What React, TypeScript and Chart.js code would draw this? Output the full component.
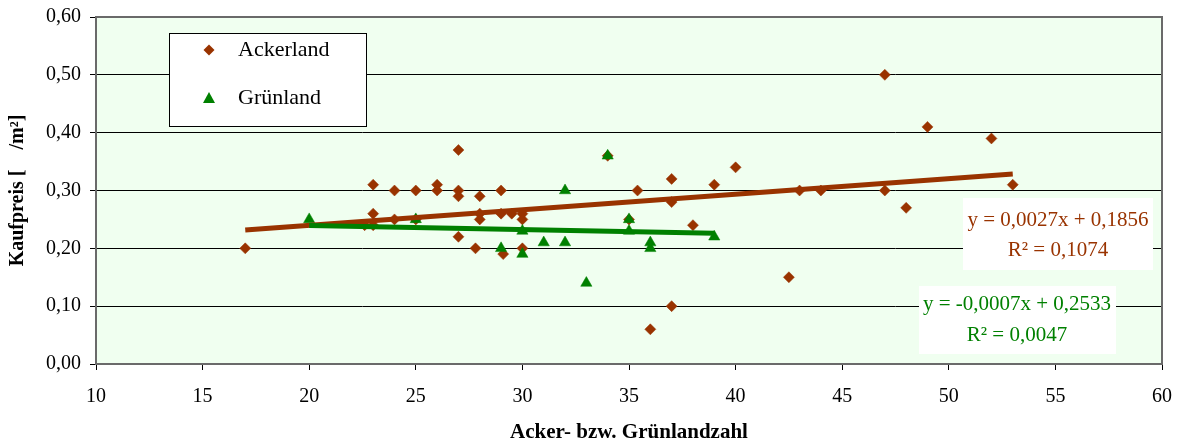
import React, { useEffect, useRef } from "react";
import { Chart, registerables } from "chart.js";

Chart.register(...registerables);

// ---- Data ----
const ackerX = [17, 22.6, 23, 23, 23, 24, 24, 25, 25, 26, 26, 27, 27, 27, 27, 27.8, 28, 28, 28, 29, 29, 29.1, 29.5, 30, 30, 30, 34, 35, 35.4, 36, 37, 37, 37, 38, 39, 40, 42.5, 43, 44, 47, 47, 48, 49, 52, 53];
const ackerY = [0.2, 0.24, 0.31, 0.26, 0.24, 0.3, 0.25, 0.3, 0.25, 0.31, 0.3, 0.37, 0.3, 0.29, 0.22, 0.2, 0.29, 0.26, 0.25, 0.3, 0.26, 0.19, 0.26, 0.26, 0.25, 0.2, 0.36, 0.25, 0.3, 0.06, 0.32, 0.28, 0.1, 0.24, 0.31, 0.34, 0.15, 0.3, 0.3, 0.5, 0.3, 0.27, 0.41, 0.39, 0.31];

const gruenX = [20, 25, 29, 30, 30, 31, 32, 32, 33, 34, 35, 35, 36, 36, 39];
const gruenY = [0.25, 0.25, 0.2, 0.23, 0.19, 0.21, 0.3, 0.21, 0.14, 0.36, 0.25, 0.23, 0.21, 0.2, 0.22];

// Trend lines (coefficients as printed on the chart) and their x extents
const ackerTrendCoef = [0.0027, 0.1856];
const ackerTrendRange = [17, 53];
const gruenTrendCoef = [-0.0007, 0.2533];
const gruenTrendRange = [20, 39];

const ackerEquation = ["y = 0,0027x + 0,1856", "R² = 0,1074"];
const gruenEquation = ["y = -0,0007x + 0,2533", "R² = 0,0047"];

const xTicks = [10, 15, 20, 25, 30, 35, 40, 45, 50, 55, 60];
const yTicks = [0, 0.1, 0.2, 0.3, 0.4, 0.5, 0.6];
const yTickLabels = ["0,00", "0,10", "0,20", "0,30", "0,40", "0,50", "0,60"];

const seriesLabels = ["Ackerland", "Grünland"];
const xTitle = "Acker- bzw. Grünlandzahl";
const yTitle = "Kaufpreis [    /m²]";

// ---- Styles ----
const SERIF = "'Liberation Serif', 'Times New Roman', serif";
const BROWN = "#993300";
const GREEN = "#008000";
const PLOT_BG = "#F0FFF0";

const decorPlugin = {
  id: "decor",
  beforeDraw(chart: any) {
    const { ctx, chartArea } = chart;
    const { left, top, right, bottom } = chartArea;
    ctx.save();
    ctx.fillStyle = "#ffffff";
    ctx.fillRect(0, 0, chart.width, chart.height);
    ctx.fillStyle = PLOT_BG;
    ctx.fillRect(left, top, right - left, bottom - top);
    ctx.restore();
  },
  beforeDatasetsDraw(chart: any) {
    const { ctx, chartArea } = chart;
    const { left, top, right, bottom } = chartArea;
    ctx.save();
    ctx.strokeStyle = "#6a6a6a";
    ctx.lineWidth = 2;
    ctx.strokeRect(left, top, right - left, bottom - top);
    ctx.restore();
  },
  afterDatasetsDraw(chart: any) {
    const { ctx } = chart;
    ctx.save();
    // Legend box
    ctx.fillStyle = "#ffffff";
    ctx.fillRect(169, 33, 197, 93);
    ctx.strokeStyle = "#000000";
    ctx.lineWidth = 1;
    ctx.strokeRect(169.5, 33.5, 197, 93);
    // diamond
    ctx.fillStyle = BROWN;
    ctx.beginPath();
    ctx.moveTo(209, 44.5);
    ctx.lineTo(214.5, 50);
    ctx.lineTo(209, 55.5);
    ctx.lineTo(203.5, 50);
    ctx.closePath();
    ctx.fill();
    // triangle
    ctx.fillStyle = GREEN;
    ctx.beginPath();
    ctx.moveTo(209, 92);
    ctx.lineTo(215, 103);
    ctx.lineTo(203, 103);
    ctx.closePath();
    ctx.fill();
    ctx.fillStyle = "#000000";
    ctx.font = `22px ${SERIF}`;
    ctx.textAlign = "left";
    ctx.textBaseline = "middle";
    ctx.fillText(seriesLabels[0], 238, 50);
    ctx.fillText(seriesLabels[1], 238, 98);

    // Equation boxes
    ctx.fillStyle = "#ffffff";
    ctx.fillRect(963, 198, 190, 72);
    ctx.fillRect(919, 286, 197, 68);
    ctx.font = `21px ${SERIF}`;
    ctx.textAlign = "center";
    ctx.fillStyle = BROWN;
    ctx.fillText(ackerEquation[0], 1058, 220);
    ctx.fillText(ackerEquation[1], 1058, 250);
    ctx.fillStyle = GREEN;
    ctx.fillText(gruenEquation[0], 1017, 304);
    ctx.fillText(gruenEquation[1], 1017, 335);
    ctx.restore();
  },
};

export default function App() {
  const canvasRef = useRef<HTMLCanvasElement | null>(null);

  useEffect(() => {
    const canvas = canvasRef.current;
    if (!canvas) return;

    const ackerPoints = ackerX.map((x, i) => ({ x, y: ackerY[i] }));
    const gruenPoints = gruenX.map((x, i) => ({ x, y: gruenY[i] }));
    const ackerLine = ackerTrendRange.map((x) => ({ x, y: ackerTrendCoef[0] * x + ackerTrendCoef[1] }));
    const gruenLine = gruenTrendRange.map((x) => ({ x, y: gruenTrendCoef[0] * x + gruenTrendCoef[1] }));

    const chart = new Chart(canvas, {
      type: "scatter",
      data: {
        datasets: [
          {
            label: "Trend Grünland",
            type: "line",
            data: gruenLine,
            borderColor: GREEN,
            borderWidth: 5,
            pointRadius: 0,
            fill: false,
            order: 0,
          } as any,
          {
            label: "Trend Ackerland",
            type: "line",
            data: ackerLine,
            borderColor: BROWN,
            borderWidth: 5,
            pointRadius: 0,
            fill: false,
            order: 1,
          } as any,
          {
            label: seriesLabels[1],
            data: gruenPoints,
            pointStyle: "triangle",
            pointRadius: 6.5,
            pointBackgroundColor: GREEN,
            pointBorderColor: GREEN,
            pointBorderWidth: 0.5,
            order: 2,
          },
          {
            label: seriesLabels[0],
            data: ackerPoints,
            pointStyle: "rectRot",
            pointRadius: 5.5,
            pointBackgroundColor: BROWN,
            pointBorderColor: BROWN,
            pointBorderWidth: 0.5,
            order: 3,
          },
        ],
      },
      options: {
        animation: false,
        responsive: false,
        devicePixelRatio: 1,
        events: [],
        layout: { padding: { top: 17, right: 19, left: 0, bottom: 0 } },
        plugins: {
          legend: { display: false },
          tooltip: { enabled: false },
        },
        scales: {
          x: {
            type: "linear",
            min: 10,
            max: 60,
            afterBuildTicks: (scale: any) => {
              scale.ticks = xTicks.map((v) => ({ value: v }));
            },
            afterFit: (scale: any) => {
              scale.height = 79;
              scale.paddingLeft = 0;
              scale.paddingRight = 0;
            },
            ticks: {
              color: "#000",
              font: { family: SERIF, size: 20 },
              padding: 15,
              maxRotation: 0,
              autoSkip: false,
              callback: (v: any) => String(v),
            },
            grid: { drawOnChartArea: false, drawTicks: true, tickLength: 6, color: "#000", lineWidth: 1 },
            border: { display: false },
            title: {
              display: true,
              text: xTitle,
              color: "#000",
              font: { family: SERIF, size: 21, weight: "bold", lineHeight: 1 },
              padding: { top: 0, bottom: 0 },
            },
          },
          y: {
            type: "linear",
            min: 0,
            max: 0.6,
            afterBuildTicks: (scale: any) => {
              scale.ticks = yTicks.map((v) => ({ value: v }));
            },
            afterFit: (scale: any) => {
              scale.width = 96;
              scale.paddingTop = 0;
              scale.paddingBottom = 0;
            },
            ticks: {
              color: "#000",
              font: { family: SERIF, size: 20 },
              padding: 9,
              autoSkip: false,
              callback: (v: any) => {
                const i = yTicks.findIndex((t) => Math.abs(t - Number(v)) < 1e-9);
                return i >= 0 ? yTickLabels[i] : "";
              },
            },
            grid: { color: "#000", lineWidth: 1, tickLength: 6, drawTicks: true },
            border: { display: false },
            title: {
              display: true,
              text: yTitle,
              color: "#000",
              font: { family: SERIF, size: 20, weight: "bold", lineHeight: 1 },
              padding: { top: 8, bottom: 0 },
            },
          },
        },
      },
      plugins: [decorPlugin],
    } as any);

    return () => {
      chart.destroy();
    };
  }, []);

  return (
    <div style={{ position: "absolute", left: 0, top: 0, width: 1181, height: 443, background: "#fff" }}>
      <canvas ref={canvasRef} width={1181} height={443} style={{ display: "block", width: 1181, height: 443 }} />
    </div>
  );
}
